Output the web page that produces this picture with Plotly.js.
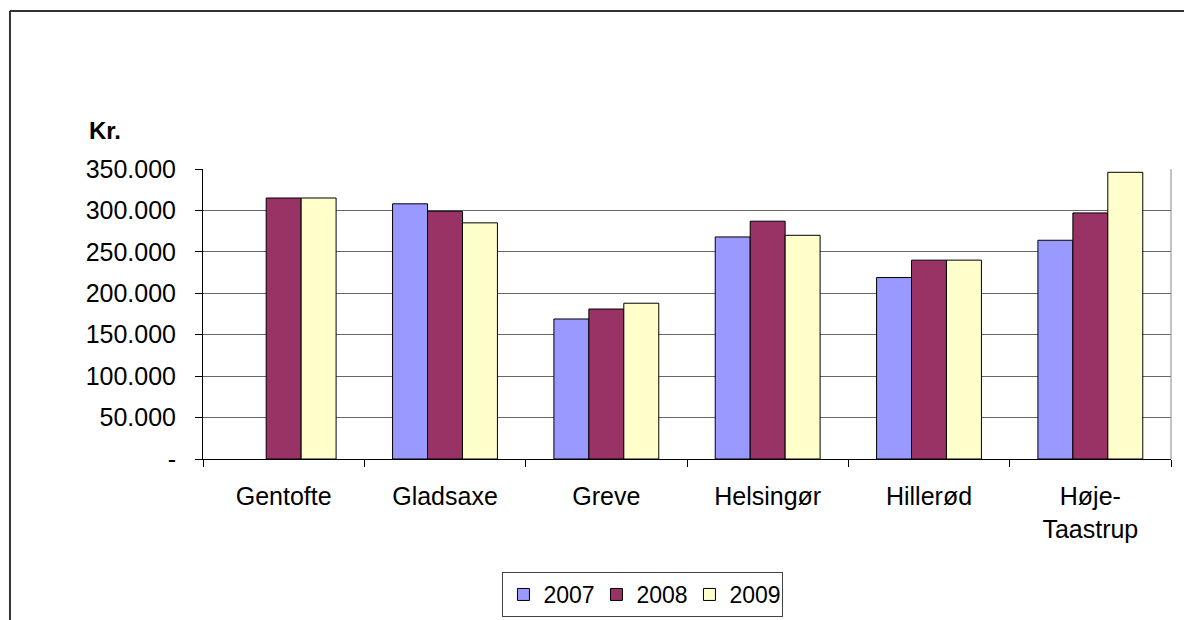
<!DOCTYPE html>
<html>
<head>
<meta charset="utf-8">
<script src="https://cdn.plot.ly/plotly-3.0.1.min.js"></script>
<style>
  html, body { margin: 0; padding: 0; background: #ffffff; }
  #chart { width: 1184px; height: 620px; }
</style>
</head>
<body>
<div id="chart"></div>
<script>
// Municipalities on the category axis
const kommuner = ['Gentofte', 'Gladsaxe', 'Greve', 'Helsingør', 'Hillerød', 'Høje-<br>Taastrup'];

// Amounts in kroner per year (Gentofte has no 2007 figure)
const aar2007 = [null, 308000, 169000, 268000, 219000, 264000];
const aar2008 = [315000, 299000, 181000, 287000, 240000, 297000];
const aar2009 = [315000, 285000, 188000, 270000, 240000, 346000];

// Value-axis ticks, Danish thousands separator, zero shown as a dash
const yTickVals = [0, 50000, 100000, 150000, 200000, 250000, 300000, 350000];
const yTickText = ['-', '50.000', '100.000', '150.000', '200.000', '250.000', '300.000', '350.000'];

const FONT = 'Liberation Sans, Arial, sans-serif';

function serie(name, values, color) {
  return {
    type: 'bar',
    name: name,
    x: kommuner,
    y: values,
    marker: { color: color, line: { color: '#000000', width: 1 } },
    hoverinfo: 'x+y+name'
  };
}

const data = [
  serie('2007', aar2007, '#9999FF'),
  serie('2008', aar2008, '#993366'),
  serie('2009', aar2009, '#FFFFCC')
];

const layout = {
  width: 1184,
  height: 620,
  margin: { l: 203, r: 13, t: 169, b: 161, autoexpand: false },
  paper_bgcolor: '#ffffff',
  plot_bgcolor: '#ffffff',
  font: { family: FONT, size: 24, color: '#000000' },
  barmode: 'group',
  bargap: 0.35,
  bargroupgap: 0,
  showlegend: true,
  legend: {
    orientation: 'h',
    x: 0.4545,
    xanchor: 'center',
    y: -0.3897,
    yanchor: 'top',
    bgcolor: '#ffffff',
    bordercolor: '#444444',
    borderwidth: 1,
    entrywidth: 48,
    font: { family: FONT, size: 23, color: '#000000' },
    traceorder: 'normal'
  },
  xaxis: {
    type: 'category',
    showgrid: false,
    zeroline: false,
    showline: true,
    linecolor: '#000000',
    linewidth: 1,
    ticks: 'outside',
    tickson: 'boundaries',
    ticklen: 7,
    tickcolor: '#000000',
    ticklabelstandoff: 15,
    tickfont: { family: FONT, size: 25, color: '#000000' },
    fixedrange: true
  },
  yaxis: {
    range: [0, 350000],
    tickvals: yTickVals,
    ticktext: yTickText,
    showgrid: true,
    gridcolor: '#666666',
    gridwidth: 1,
    zeroline: false,
    showline: true,
    linecolor: '#000000',
    linewidth: 1,
    ticks: 'outside',
    ticklen: 7,
    tickcolor: '#000000',
    ticklabelstandoff: 14,
    tickfont: { family: FONT, size: 25, color: '#000000' },
    fixedrange: true
  },
  annotations: [
    {
      text: '<b>Kr.</b>',
      xref: 'paper', yref: 'paper',
      x: -0.1198, y: 1.134,
      xanchor: 'left', yanchor: 'middle',
      showarrow: false,
      font: { family: FONT, size: 24, color: '#000000' }
    }
  ],
  shapes: [
    // right edge of the plot area
    { type: 'line', xref: 'paper', yref: 'paper', x0: 1, x1: 1, y0: 0, y1: 1,
      line: { color: '#888888', width: 1 } },
    // outer chart frame (left and top edges)
    { type: 'line', xref: 'paper', yref: 'paper', x0: -0.1994, x1: -0.1994, y0: 1.5448, y1: -0.8,
      line: { color: '#333333', width: 2 } },
    { type: 'line', xref: 'paper', yref: 'paper', x0: -0.1994, x1: 1.2, y0: 1.5448, y1: 1.5448,
      line: { color: '#333333', width: 2 } }
  ]
};

Plotly.newPlot('chart', data, layout, { displayModeBar: false, staticPlot: true });
</script>
</body>
</html>
